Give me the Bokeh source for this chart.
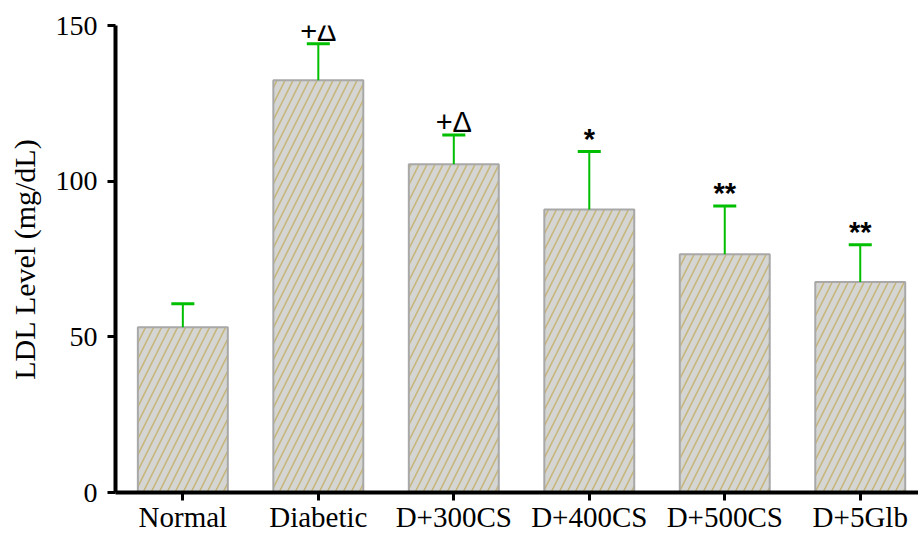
from bokeh.plotting import figure
from bokeh.models import Range1d, FixedTicker, ColumnDataSource, LabelSet
from bokeh.core.properties import value
from bokeh.embed import file_html
from bokeh.resources import INLINE

categories = ["Normal", "Diabetic", "D+300CS", "D+400CS", "D+500CS", "D+5Glb"]
ldl_mean = [53.1, 132.4, 105.4, 90.9, 76.5, 67.6]
ldl_err = [7.5, 11.7, 9.4, 18.6, 15.5, 12.0]
significance = ["", "+\u0394", "+\u0394", "*", "**", "**"]
y_ticks = [0, 50, 100, 150]

xs = list(range(len(categories)))
tops = [m + e for m, e in zip(ldl_mean, ldl_err)]
cap_half = 0.085
src = ColumnDataSource(dict(
    x=xs, mean=ldl_mean, top=tops,
    x0=[x - cap_half for x in xs], x1=[x + cap_half for x in xs],
    sig=significance,
    sig_style=["bold" if "*" in s else "normal" for s in significance],
))

p = figure(width=918, height=535, output_backend="svg", toolbar_location=None,
           x_range=Range1d(-0.497, 5.43), y_range=Range1d(0, 150),
           min_border_left=115, min_border_right=0, min_border_top=25,
           min_border_bottom=30, background_fill_color="white",
           border_fill_color="white", outline_line_color=None)

p.vbar(x="x", top="mean", bottom=0, width=0.664, source=src,
       fill_color="#d5d5d3", line_color="#a8a8a8", line_width=2,
       hatch_pattern="/", hatch_color="#c6b67a", hatch_scale=16, hatch_weight=1.6)

p.segment(x0="x", y0="mean", x1="x", y1="top", source=src,
          line_color="#00bf00", line_width=2)
p.segment(x0="x0", y0="top", x1="x1", y1="top", source=src,
          line_color="#00bf00", line_width=3)

labels = LabelSet(x="x", y="top", text="sig", source=src, y_offset=3,
                  text_align="center", text_baseline="alphabetic",
                  text_font=value("Liberation Sans"), text_font_size="29px",
                  text_font_style="sig_style", text_color="black")
p.add_layout(labels)

p.xgrid.visible = False
p.ygrid.visible = False

ya = p.yaxis[0]
ya.ticker = FixedTicker(ticks=y_ticks)
ya.minor_tick_line_color = None
ya.axis_line_width = 4
ya.axis_line_color = "black"
ya.major_tick_line_width = 3
ya.major_tick_out = 8
ya.major_tick_in = 0
ya.major_label_text_font = "Liberation Serif"
ya.major_label_text_font_size = "28px"
ya.major_label_text_color = "black"
ya.major_label_standoff = 10
ya.axis_label = "LDL Level (mg/dL)"
ya.axis_label_text_font = "Liberation Serif"
ya.axis_label_text_font_size = "30px"
ya.axis_label_text_font_style = "normal"
ya.axis_label_text_color = "black"
ya.axis_label_standoff = 12

xa = p.xaxis[0]
xa.ticker = FixedTicker(ticks=xs)
xa.major_label_overrides = {i: c for i, c in enumerate(categories)}
xa.minor_tick_line_color = None
xa.axis_line_width = 4
xa.axis_line_color = "black"
xa.major_tick_line_width = 3
xa.major_tick_out = 8
xa.major_tick_in = 0
xa.major_label_text_font = "Liberation Serif"
xa.major_label_text_font_size = "29px"
xa.major_label_text_color = "black"
xa.major_label_standoff = 0

open("out.html", "w").write(file_html(p, INLINE))
